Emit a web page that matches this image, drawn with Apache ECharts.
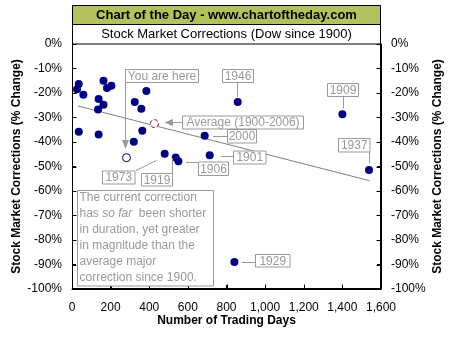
<!DOCTYPE html>
<html><head><meta charset="utf-8">
<script src="https://cdn.jsdelivr.net/npm/echarts@6/dist/echarts.min.js"></script>
<style>html,body{margin:0;padding:0;background:#fff}#c{width:454px;height:340px}</style>
</head><body><div id="c"></div>
<script>
// ---- data ----
const corrDays = [35, 26, 59, 163, 204, 181, 138, 163, 135, 385, 325, 359, 35, 138, 364, 320, 480, 537, 551, 687, 713, 858, 1400, 1538, 841];
const corrPcts = [-16.3, -18.5, -20.7, -15, -17, -18, -22.4, -24.8, -26.7, -19.2, -23.7, -26.4, -35.8, -36.9, -35.4, -39.9, -44.8, -46.3, -47.9, -37.4, -45.4, -23.7, -28.7, -51.4, -89];
const currentDays = [282];
const currentPcts = [-46.4];
const averageDays = [427];
const averagePcts = [-32.5];
const trendDays = [31, 1541];
const trendPcts = [-25.3, -55.8];
const xTicks = [0, 200, 400, 600, 800, 1000, 1200, 1400, 1600];
const yTicks = [-100, -90, -80, -70, -60, -50, -40, -30, -20, -10, 0];
const xMin = 0, xMax = 1600, xStep = 200;
const yMin = -100, yMax = 0, yStep = 10;

const FONT = '"Liberation Sans", Arial, sans-serif';
const GRAY = '#999999';
const zip = (a, b) => a.map((v, i) => [v, b[i]]);

const chart = echarts.init(document.getElementById('c'));

function boxLabel(x, y, w, h, text) {
  return [
    {type: 'rect', z: 100, shape: {x: x, y: y, width: w, height: h}, style: {fill: '#fff', stroke: GRAY, lineWidth: 1}},
    {type: 'text', z: 101, x: x + w / 2, y: y + h / 2 + 0.5, style: {text: text, fill: GRAY, font: '12px ' + FONT, align: 'center', verticalAlign: 'middle'}}
  ];
}
function seg(x1, y1, x2, y2, color, z) {
  return {type: 'line', z: z || 99, shape: {x1: x1, y1: y1, x2: x2, y2: y2}, style: {stroke: color || GRAY, lineWidth: 1}};
}

const annotations = [
  // title block
  {type: 'rect', z: 90, shape: {x: 72.5, y: 5.5, width: 308, height: 19}, style: {fill: '#b4c25d', stroke: '#000', lineWidth: 1}},
  {type: 'text', z: 91, x: 226.5, y: 15.5, style: {text: 'Chart of the Day - www.chartoftheday.com', fill: '#000', font: 'bold 13px ' + FONT, align: 'center', verticalAlign: 'middle'}},
  {type: 'rect', z: 90, shape: {x: 72.5, y: 24.5, width: 308, height: 19.5}, style: {fill: '#fff', stroke: '#000', lineWidth: 1}},
  {type: 'text', z: 91, x: 226.5, y: 34.5, style: {text: 'Stock Market Corrections (Dow since 1900)', fill: '#000', font: '13px ' + FONT, align: 'center', verticalAlign: 'middle'}},
  // connectors
  seg(125.5, 82.5, 125.5, 141),
  {type: 'polygon', z: 99, shape: {points: [[122, 140], [129, 140], [125.5, 149]]}, style: {fill: GRAY}},
  seg(172, 122.5, 182.5, 122.5),
  {type: 'polygon', z: 99, shape: {points: [[173, 119], [173, 126], [164.5, 122.5]]}, style: {fill: GRAY}},
  seg(237.5, 82.5, 237.5, 97),
  seg(343.5, 96.5, 343.5, 108.5),
  seg(213, 136.5, 227.5, 136.5),
  seg(221.5, 156.5, 233.5, 156.5),
  seg(186, 162.5, 198.5, 162.5),
  seg(172.5, 158, 172.5, 173.5),
  seg(136, 170.5, 156.5, 160.5),
  seg(369.5, 152, 369.5, 163.5),
  seg(241.5, 262.5, 255.5, 262.5),
  ...boxLabel(125.5, 69.5, 73, 13, 'You are here'),
  ...boxLabel(222.5, 69.5, 31, 13, '1946'),
  ...boxLabel(327.5, 83.5, 31, 13, '1909'),
  ...boxLabel(182.5, 116, 121, 13, 'Average (1900-2006)'),
  ...boxLabel(227.5, 129.5, 29, 13.5, '2000'),
  ...boxLabel(338.5, 138.5, 31.5, 13.5, '1937'),
  ...boxLabel(233.5, 151, 32.5, 13, '1901'),
  ...boxLabel(198.5, 162, 30, 13.5, '1906'),
  ...boxLabel(102.5, 171, 32.5, 13, '1973'),
  ...boxLabel(141.5, 173.5, 31, 12.5, '1919'),
  ...boxLabel(255.5, 254.5, 34.5, 12.5, '1929'),
  {type: 'rect', z: 100, shape: {x: 77.5, y: 190.5, width: 136, height: 95.5}, style: {fill: '#fff', stroke: GRAY, lineWidth: 1}},
  {type: 'text', z: 101, x: 79.5, y: 189.5, style: {
    text: 'The current correction\nhas {i|so far}  been shorter\nin duration, yet greater\nin magnitude than the\naverage major\ncorrection since 1900.',
    fill: GRAY, font: '12px ' + FONT, lineHeight: 16, align: 'left', verticalAlign: 'top',
    rich: {i: {fontStyle: 'italic', fontSize: 12, fontFamily: FONT, fill: GRAY, lineHeight: 16}}
  }}
];

const yAxisBase = (pos) => ({
  type: 'value', position: pos, min: yMin, max: yMax, interval: yStep,
  name: 'Stock Market Corrections (% Change)', nameLocation: 'middle',
  nameGap: pos === 'left' ? 55 : 57, nameRotate: 90, nameMoveOverlap: false,
  nameTextStyle: {fontFamily: FONT, fontWeight: 'bold', fontSize: 12, color: '#000', verticalAlign: 'middle'},
  axisLine: {show: true, lineStyle: {color: '#000', width: 1}},
  axisTick: {show: true, inside: true, length: 4, lineStyle: {color: '#000'}},
  axisLabel: {formatter: '{value}%', fontFamily: FONT, fontSize: 12, color: '#000', margin: 10},
  splitLine: {show: false}
});

chart.setOption({
  animation: false,
  backgroundColor: '#fff',
  grid: {left: 72, right: 73, top: 44, bottom: 51, containLabel: false, outerBoundsMode: 'none'},
  xAxis: {
    type: 'value', min: xMin, max: xMax, interval: xStep,
    name: 'Number of Trading Days', nameLocation: 'middle', nameGap: 26, nameMoveOverlap: false,
    nameTextStyle: {fontFamily: FONT, fontWeight: 'bold', fontSize: 12, color: '#000'},
    axisLine: {show: true, onZero: false, lineStyle: {color: '#000', width: 1}},
    axisTick: {show: true, inside: true, length: 4, lineStyle: {color: '#000'}},
    axisLabel: {formatter: (v) => v.toLocaleString('en-US'), fontFamily: FONT, fontSize: 12, color: '#000', margin: 13},
    splitLine: {show: false}
  },
  yAxis: [yAxisBase('left'), yAxisBase('right')],
  series: [
    {type: 'line', data: zip(trendDays, trendPcts), symbol: 'none', lineStyle: {color: '#808080', width: 1}, z: 2},
    {type: 'scatter', data: zip(corrDays, corrPcts), symbol: 'circle', symbolSize: 8, itemStyle: {color: '#000080', opacity: 1}, z: 3},
    {type: 'scatter', data: zip(currentDays, currentPcts), symbol: 'circle', symbolSize: 8, itemStyle: {color: '#fff', borderColor: '#000080', borderWidth: 1, opacity: 1}, z: 3},
    {type: 'scatter', data: zip(averageDays, averagePcts), symbol: 'circle', symbolSize: 8, itemStyle: {color: '#fff', borderColor: '#8b0000', borderWidth: 1, borderType: 'dashed', opacity: 1}, z: 3}
  ]
});

// plot frame and inward ticks, placed through the chart's own scales
const p0 = chart.convertToPixel({gridIndex: 0}, [xMin, yMax]);
const p1 = chart.convertToPixel({gridIndex: 0}, [xMax, yMin]);
const L = Math.round(p0[0]) + 0.5, R = Math.round(p1[0]) - 0.5;
const T = Math.round(p0[1]), B = Math.round(p1[1]) - 0.5;
const frame = [
  seg(L, T, L, B + 0.5, '#000', 95),
  seg(R, T, R, B + 0.5, '#000', 95),
  seg(L - 0.5, B, R + 0.5, B, '#000', 95)
];
yTicks.forEach(v => {
  const y = Math.round(chart.convertToPixel({gridIndex: 0}, [xMin, v])[1]) + 0.5;
  if (y > B) return;
  frame.push(seg(L, y, L + 4, y, '#000', 95));
  frame.push(seg(R - 4, y, R, y, '#000', 95));
});
xTicks.forEach(v => {
  const x = Math.round(chart.convertToPixel({gridIndex: 0}, [v, yMin])[0]) + 0.5;
  frame.push(seg(x, B - 4, x, B, '#000', 95));
});

chart.setOption({graphic: frame.concat(annotations)});
</script></body></html>
